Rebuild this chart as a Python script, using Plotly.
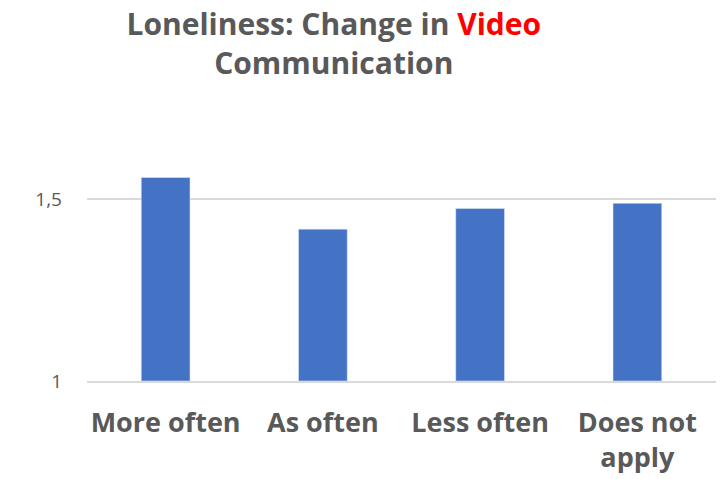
import plotly.graph_objects as go

categories = ["More often", "As often", "Less often", "Does not<br>apply"]
values = [1.56, 1.418, 1.475, 1.489]
tick_vals = [1, 1.5]
tick_text = ["1", "1,5"]
base_value = 1

fig = go.Figure(go.Bar(
    x=categories, y=[v - base_value for v in values], base=base_value,
    marker_color="#4472C4", hoverinfo="skip",
))

fig.update_layout(
    width=716, height=471,
    margin=dict(l=79, r=8, t=155, b=98, autoexpand=False),
    paper_bgcolor="white", plot_bgcolor="white",
    separators=",.",
    bargap=0.69,
    showlegend=False,
    title=dict(
        text="Loneliness: Change in <span style='color:#FF0000'>Video</span><br>Communication",
        x=0.455, xanchor="center", xref="container",
        y=0.942, yanchor="top", yref="container",
        font=dict(family="Open Sans", size=30, color="#595959", weight="bold"),
    ),
    font=dict(family="Open Sans", color="#595959"),
)
fig.update_xaxes(
    tickfont=dict(family="Open Sans", size=27, color="#595959", weight="bold"),
    showline=True, linecolor="#D9D9D9", linewidth=1.5,
    ticks="", showgrid=False, automargin=False, ticklabelstandoff=17,
)
fig.update_yaxes(
    range=[1, 1.6], tickvals=tick_vals, ticktext=tick_text,
    tickfont=dict(family="Open Sans", size=19, color="#595959"),
    showgrid=True, gridcolor="#D9D9D9", gridwidth=1.5,
    zeroline=False, ticks="", ticklabelstandoff=24, automargin=False,
)
fig.write_html("out.html")
